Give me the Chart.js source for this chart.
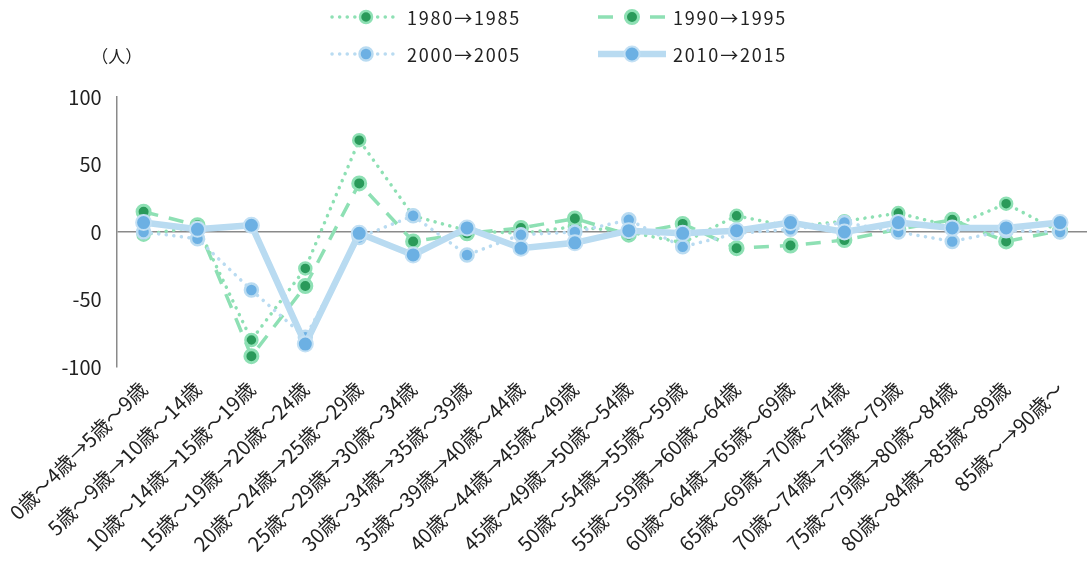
<!DOCTYPE html>
<html><head><meta charset="utf-8">
<script src="https://cdn.jsdelivr.net/npm/chart.js@4"></script>
<style>html,body{margin:0;padding:0;background:#fff;}#wrap{width:1087px;height:565px;}</style>
</head><body><div id="wrap"><canvas id="c" width="1087" height="565"></canvas></div>
<script>
const categories = ["0歳～4歳→5歳～9歳","5歳～9歳→10歳～14歳","10歳～14歳→15歳～19歳","15歳～19歳→20歳～24歳","20歳～24歳→25歳～29歳","25歳～29歳→30歳～34歳","30歳～34歳→35歳～39歳","35歳～39歳→40歳～44歳","40歳～44歳→45歳～49歳","45歳～49歳→50歳～54歳","50歳～54歳→55歳～59歳","55歳～59歳→60歳～64歳","60歳～64歳→65歳～69歳","65歳～69歳→70歳～74歳","70歳～74歳→75歳～79歳","75歳～79歳→80歳～84歳","80歳～84歳→85歳～89歳","85歳～→90歳～"];
const seriesNames = ["1980→1985","1990→1995","2000→2005","2010→2015"];
const s1980 = [-2, 4, -80, -27, 68, 12, 1, -1, 4, 0, -8, 12, 4, 8, 14, 4, 21, 0];
const s1990 = [15, 5, -92, -40, 36, -7, -1, 3, 10, -2, 6, -12, -10, -6, 2, 9, -7, 1];
const s2000 = [0, -5, -43, -78, -4, 12, -17, -2, 0, 9, -11, -1, 2, 7, 0, -7, 1, 0];
const s2010 = [7, 2, 5, -83, -1, -17, 3, -12, -8, 1, -1, 1, 7, 0, 7, 3, 3, 7];
const yTicks = [-100, -50, 0, 50, 100];
const unitLabel = "（人）";

const LG = '#8ee0b4', DG = '#2a9a5a', LB = '#b9dbf1', MB = '#6cb0e3';
const FONT = '"Noto Sans CJK JP", "Noto Sans", sans-serif';

const legendPlugin = {
  id: 'customLegend',
  afterDraw(chart) {
    const ctx = chart.ctx;
    const pos = [[332, 17], [598, 17], [332, 54], [598, 54]];
    chart.data.datasets.forEach((ds, i) => {
      const [x, y] = pos[i];
      ctx.save();
      ctx.strokeStyle = ds.borderColor;
      ctx.lineWidth = ds.borderWidth;
      ctx.lineCap = ds.borderCapStyle || 'butt';
      ctx.setLineDash(ds.borderDash || []);
      ctx.beginPath(); ctx.moveTo(x, y); ctx.lineTo(x + 68, y); ctx.stroke();
      ctx.setLineDash([]);
      ctx.beginPath(); ctx.arc(x + 34, y, ds.pointRadius, 0, Math.PI * 2);
      ctx.fillStyle = ds.pointBackgroundColor; ctx.fill();
      ctx.lineWidth = ds.pointBorderWidth; ctx.strokeStyle = ds.pointBorderColor; ctx.stroke();
      ctx.fillStyle = '#222';
      ctx.font = '18px ' + FONT;
      ctx.letterSpacing = '1.8px';
      ctx.textBaseline = 'middle'; ctx.textAlign = 'left';
      ctx.fillText(ds.label, x + 75, y + 1);
      ctx.restore();
    });
    const ya = chart.scales.y;
    ctx.save();
    ctx.fillStyle = '#222'; ctx.font = '17px ' + FONT;
    ctx.textAlign = 'center'; ctx.textBaseline = 'middle';
    ctx.fillText(unitLabel, ya.right, 57);
    ctx.restore();
  }
};

new Chart(document.getElementById('c'), {
  type: 'line',
  data: {
    labels: categories,
    datasets: [
      { label: seriesNames[0], data: s1980, order: 3, borderColor: LG, borderWidth: 3.5, borderDash: [0.1, 7.5], borderCapStyle: 'round',
        pointRadius: 6, pointBackgroundColor: DG, pointBorderColor: LG, pointBorderWidth: 2.5, pointHoverRadius: 6, tension: 0 },
      { label: seriesNames[1], data: s1990, order: 2, borderColor: LG, borderWidth: 3.5, borderDash: [15, 11],
        pointRadius: 6.5, pointBackgroundColor: DG, pointBorderColor: LG, pointBorderWidth: 3, pointHoverRadius: 6.5, tension: 0 },
      { label: seriesNames[2], data: s2000, order: 1, borderColor: LB, borderWidth: 3.5, borderDash: [0.1, 7.5], borderCapStyle: 'round',
        pointRadius: 6.5, pointBackgroundColor: MB, pointBorderColor: LB, pointBorderWidth: 2.5, pointHoverRadius: 6.5, tension: 0 },
      { label: seriesNames[3], data: s2010, order: 0, borderColor: LB, borderWidth: 6.5,
        pointRadius: 7.5, pointBackgroundColor: MB, pointBorderColor: '#c3e0f4', pointBorderWidth: 2, pointHoverRadius: 7.5, tension: 0 }
    ]
  },
  options: {
    responsive: false,
    animation: false,
    layout: { autoPadding: false, padding: { top: 97, left: 0, right: 0, bottom: 0 } },
    plugins: { legend: { display: false }, tooltip: { enabled: false } },
    scales: {
      x: {
        offset: true,
        afterFit(scale) { scale.height = 198; },
        grid: { display: false, drawTicks: false },
        border: { display: false },
        ticks: { minRotation: 45, maxRotation: 45, autoSkip: false, color: '#222', padding: 10, font: { family: FONT, size: 20 } }
      },
      y: {
        min: -100, max: 100,
        afterFit(scale) { scale.width = 115; },
        afterBuildTicks(scale) { scale.ticks = yTicks.map(v => ({ value: v })); },
        grid: { drawTicks: false, color: ctx => ctx.tick && ctx.tick.value === 0 ? '#8a8a8a' : 'rgba(0,0,0,0)', lineWidth: 1.5 },
        border: { display: true, color: '#8a8a8a', width: 1.5 },
        ticks: { color: '#222', padding: 15, font: { family: FONT, size: 20 } }
      }
    }
  },
  plugins: [legendPlugin]
});
</script></body></html>
